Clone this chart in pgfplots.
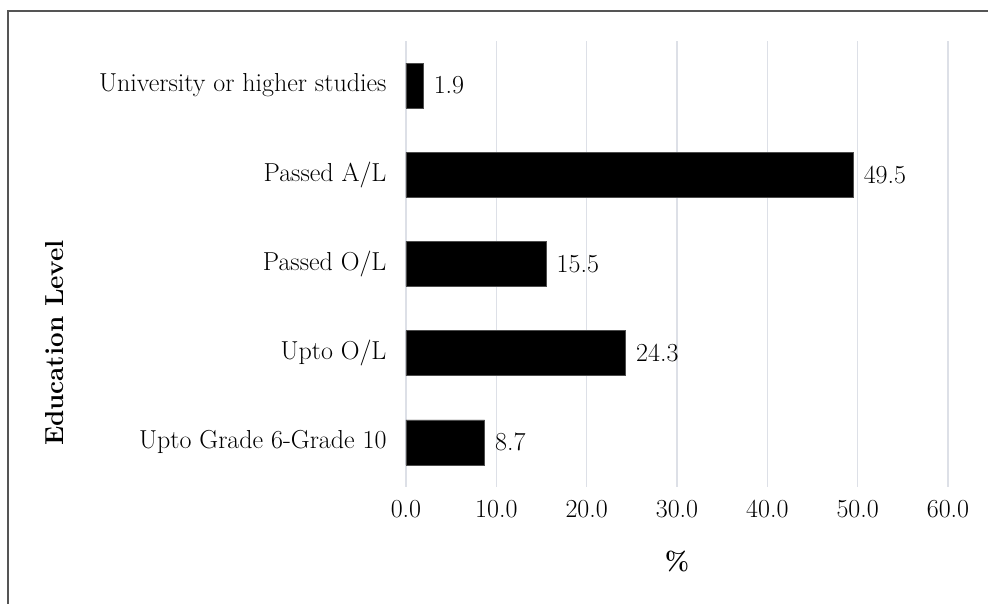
\documentclass[border=0pt]{standalone}
\usepackage{pgfplots}
\pgfplotsset{compat=1.18}

\definecolor{gridgray}{HTML}{DDE0E7}
\definecolor{framegray}{HTML}{555555}

\pgfplotstableread{
idx value
0 8.7
1 24.3
2 15.5
3 49.5
4 1.9
}\edudata

% one-decimal number printed in the text font
\newcommand{\onedec}[1]{\pgfmathprintnumber[fixed,fixed zerofill,precision=1,assume math mode=true]{#1}}

\begin{document}
\begin{tikzpicture}[x=1pt,y=1pt]
\path[use as bounding box] (0,0) rectangle (988,604);
% chart frame (top and left edges)
\draw[framegray, line width=1.2pt] (8,0) -- (8,593) -- (988,593);
\begin{axis}[
  at={(406pt,117pt)}, anchor=south west,
  scale only axis, width=542pt, height=446pt,
  font=\fontsize{26}{30}\selectfont,
  xbar, bar width=45pt,
  xmin=0, xmax=60, ymin=-0.5, ymax=4.5,
  xtick={0,10,...,60},
  xticklabel={\onedec{\tick}},
  xticklabel style={yshift=-10pt},
  ytick={0,1,2,3,4},
  yticklabels={Upto Grade 6-Grade 10, Upto O/L, Passed O/L, Passed A/L, University or higher studies},
  yticklabel style={xshift=-16pt},
  major tick length=0pt,
  axis line style={draw=none},
  xmajorgrids, grid style={gridgray, line width=1.2pt},
  xlabel={\textbf{\%}}, ylabel={\textbf{Education Level}},
  every axis x label/.style={at={(axis description cs:0.5,-0.168)}, anchor=center},
  every axis y label/.style={at={(axis description cs:-0.6476,0.323)}, anchor=center, rotate=90},
  nodes near coords={\onedec{\pgfplotspointmeta}},
  nodes near coords style={anchor=west, xshift=7pt},
]
\addplot[fill=black, draw=gray!60!black, line width=0.6pt] table[x=value, y=idx] {\edudata};
\end{axis}
\end{tikzpicture}
\end{document}
